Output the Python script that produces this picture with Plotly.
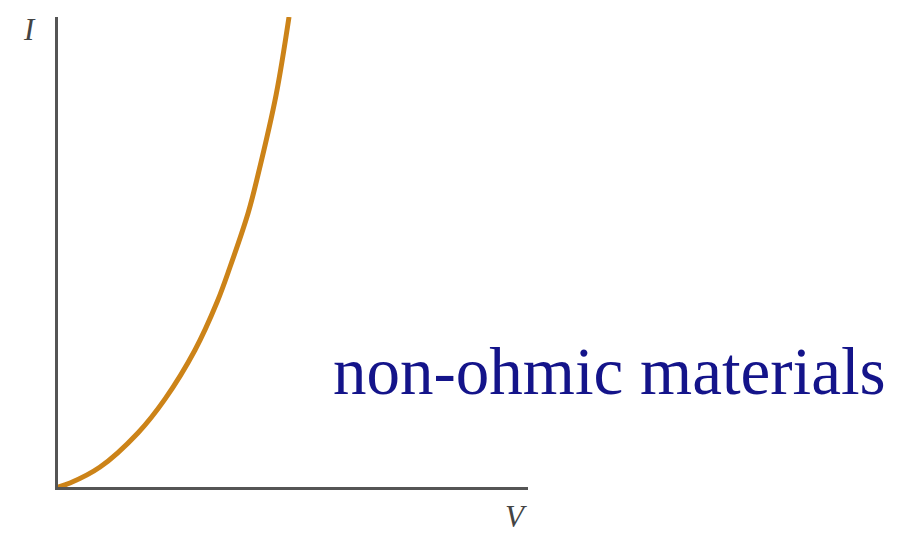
import plotly.graph_objects as go

# Current–voltage characteristic of a non-ohmic conductor
voltage = [0.0, 0.51, 1.79, 3.40, 4.55, 5.83, 6.77, 7.32, 8.09, 8.51, 9.28, 9.83]
current = [0.0, 0.17, 0.85, 2.30, 3.74, 5.83, 7.87, 9.36, 11.66, 13.28, 16.68, 20.0]

x_label = "V"
y_label = "I"
caption = "non-ohmic materials"

W, H = 911, 535
L, R, T, B = 58, 383, 17, 48
pw, ph = W - L - R, H - T - B


def px(x):
    return (x - L) / pw


def py(y):
    return (H - B - y) / ph


fig = go.Figure()
fig.add_trace(go.Scatter(
    x=voltage, y=current, mode="lines",
    line=dict(color="#cc8318", width=5, shape="spline", smoothing=1.0),
    hoverinfo="skip", showlegend=False,
))

axis_common = dict(
    showline=True, linecolor="#555555", linewidth=3,
    showgrid=False, zeroline=False, showticklabels=False, ticks="",
)
fig.update_xaxes(range=[0, 20], **axis_common)
fig.update_yaxes(range=[0, 20], **axis_common)

label_font = dict(family="Liberation Serif", size=31, color="#444444", style="italic")
fig.add_annotation(
    text=y_label, xref="paper", yref="paper", x=px(29), y=py(30),
    xanchor="center", yanchor="middle", showarrow=False, font=label_font,
)
fig.add_annotation(
    text=x_label, xref="paper", yref="paper", x=px(516), y=py(516),
    xanchor="center", yanchor="middle", showarrow=False, font=label_font,
)
fig.add_annotation(
    text=caption, xref="paper", yref="paper", x=px(331), y=py(371),
    xanchor="left", yanchor="middle", showarrow=False,
    font=dict(family="Liberation Serif", size=67, color="#14148a"),
)

fig.update_layout(
    width=W, height=H,
    margin=dict(l=L, r=R, t=T, b=B),
    paper_bgcolor="white", plot_bgcolor="white",
)

fig.write_html("out.html")
